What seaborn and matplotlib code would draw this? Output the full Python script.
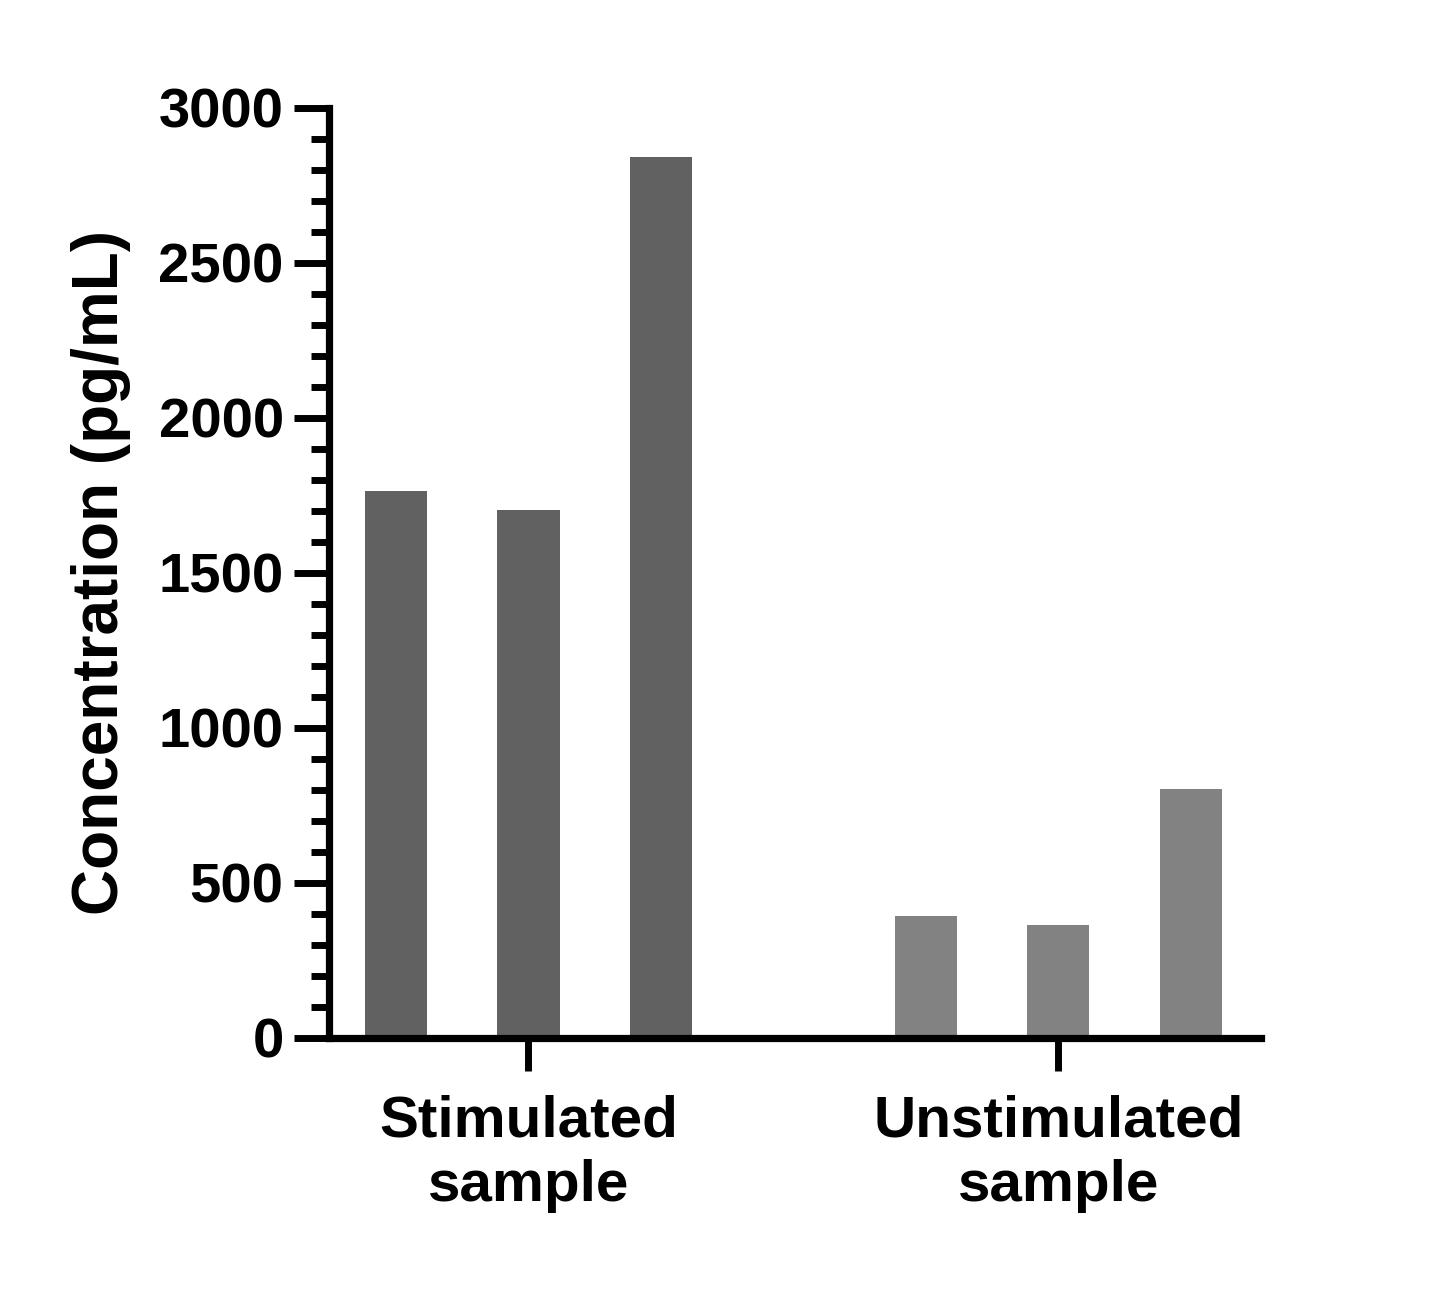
import pandas as pd
import matplotlib.pyplot as plt
import seaborn as sns
from matplotlib.ticker import MultipleLocator

# ----- Data ----- #
groups = ["Stimulated\nsample", "Unstimulated\nsample"]
stimulated = [1762, 1702, 2841]
unstimulated = [393, 364, 803]
bar_pos = [0, 1, 2, 4, 5, 6]
group_pos = [1, 5]
colors = ["#616161", "#828282"]

df = pd.DataFrame({
    "pos": bar_pos,
    "value": stimulated + unstimulated,
    "group": [groups[0]] * 3 + [groups[1]] * 3,
})

# ----- Style ----- #
sns.set_theme(style="ticks", rc={"text.color": "black",
                                 "axes.labelcolor": "black",
                                 "xtick.color": "black",
                                 "ytick.color": "black"})
plt.rcParams["font.family"] = ["Liberation Sans", "DejaVu Sans"]
plt.rcParams["font.weight"] = "bold"

fig = plt.figure(figsize=(14.45, 12.99), dpi=100)
ax = fig.add_axes([0.228, 0.2013, 0.645, 0.7159])

sns.barplot(data=df, x="pos", y="value", hue="group", palette=colors,
            native_scale=True, dodge=False, width=0.47, legend=False,
            saturation=1, edgecolor="none", ax=ax)

ax.set_xlim(-0.502, 6.534)
ax.set_ylim(0, 3000)
ax.yaxis.set_major_locator(MultipleLocator(500))
ax.yaxis.set_minor_locator(MultipleLocator(100))
ax.set_xticks(group_pos)
ax.set_xticklabels(groups, fontsize=42, fontweight="bold", linespacing=1.25)
ax.tick_params(axis="y", which="major", length=25, width=5, labelsize=40.5, pad=8)
ax.tick_params(axis="y", which="minor", length=13, width=5)
ax.tick_params(axis="x", which="major", length=24, width=5, pad=17)
ax.xaxis.set_minor_locator(plt.NullLocator())
for lab in ax.get_yticklabels():
    lab.set_fontweight("bold")

sns.despine(ax=ax)
for side in ["left", "bottom"]:
    ax.spines[side].set_linewidth(5.2)
    ax.spines[side].set_color("black")
ax.spines["left"].set_capstyle("projecting")

ax.set_xlabel("")
ax.set_ylabel("Concentration (pg/mL)", fontsize=46, fontweight="bold")
ax.yaxis.set_label_coords(-0.213, 0.5)

plt.savefig("out.png", dpi=100, facecolor="white")
